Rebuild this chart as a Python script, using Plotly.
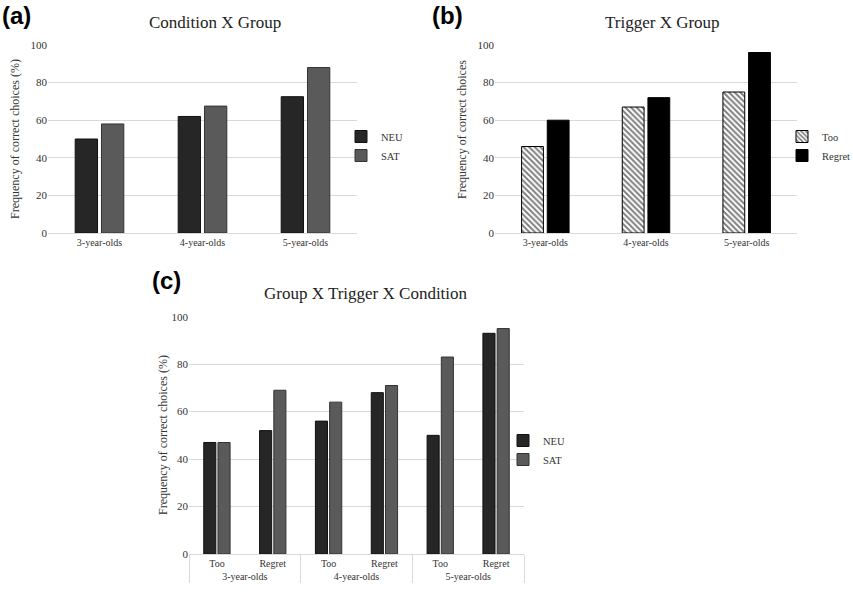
import plotly.graph_objects as go

# ---- data ----
groups = ["3-year-olds", "4-year-olds", "5-year-olds"]

# (a) Condition X Group
a_neu = [50, 62, 72.5]
a_sat = [58, 67.5, 88]

# (b) Trigger X Group
b_too = [46, 67, 75]
b_regret = [60, 72, 96]

# (c) Group X Trigger X Condition
c_groups = ["3-year-olds", "3-year-olds", "4-year-olds", "4-year-olds", "5-year-olds", "5-year-olds"]
c_triggers = ["Too", "Regret", "Too", "Regret", "Too", "Regret"]
c_neu = [47, 52, 56, 68, 50, 93]
c_sat = [47, 69, 64, 71, 83, 95]

NEU_C = "#262626"
SAT_C = "#5a5a5a"
GRID = "#d9d9d9"
SERIF = "Liberation Serif, Times New Roman, serif"
SANS = "Liberation Sans, Arial, sans-serif"
TXT = "#333333"

fig = go.Figure()

# (a)
fig.add_trace(go.Bar(x=groups, y=a_neu, name="NEU", marker=dict(color=NEU_C, line=dict(color="#111", width=1)),
                     xaxis="x", yaxis="y", legend="legend"))
fig.add_trace(go.Bar(x=groups, y=a_sat, name="SAT", marker=dict(color=SAT_C, line=dict(color="#333", width=1)),
                     xaxis="x", yaxis="y", legend="legend"))
# (b)
fig.add_trace(go.Bar(x=groups, y=b_too, name="Too",
                     marker=dict(color="white", line=dict(color="#000", width=1),
                                 pattern=dict(shape="\\", fgcolor="#000", bgcolor="white", size=4, solidity=0.5)),
                     xaxis="x2", yaxis="y2", legend="legend2"))
fig.add_trace(go.Bar(x=groups, y=b_regret, name="Regret", marker=dict(color="#000", line=dict(color="#000", width=1)),
                     xaxis="x2", yaxis="y2", legend="legend2"))
# (c)
fig.add_trace(go.Bar(x=[c_groups, c_triggers], y=c_neu, name="NEU",
                     marker=dict(color=NEU_C, line=dict(color="#111", width=1)),
                     xaxis="x3", yaxis="y3", legend="legend3"))
fig.add_trace(go.Bar(x=[c_groups, c_triggers], y=c_sat, name="SAT",
                     marker=dict(color=SAT_C, line=dict(color="#333", width=1)),
                     xaxis="x3", yaxis="y3", legend="legend3"))

W, H = 853, 594
def px(x): return x / W
def py(y): return 1 - y / H

yax = dict(range=[0, 100], dtick=20, showgrid=True, gridcolor=GRID, gridwidth=1, zeroline=False,
           showline=False, ticks="", tickfont=dict(family=SERIF, size=11, color=TXT), fixedrange=True)
xax = dict(showgrid=False, showline=True, linecolor=GRID, linewidth=1, ticks="",
           tickfont=dict(family=SERIF, size=10, color=TXT), fixedrange=True)

legend_common = dict(font=dict(family=SERIF, size=10.5, color=TXT), bgcolor="rgba(0,0,0,0)",
                     tracegroupgap=0, itemwidth=30, xanchor="left", yanchor="middle")

fig.update_layout(
    width=W, height=H, margin=dict(l=0, r=0, t=0, b=0, autoexpand=False),
    paper_bgcolor="white", plot_bgcolor="white",
    barmode="group", bargap=0.49, bargroupgap=0.15,
    xaxis=dict(domain=[px(48), px(357)], anchor="y", **xax),
    yaxis=dict(domain=[py(233), py(45)], anchor="x", **yax),
    xaxis2=dict(domain=[px(495), px(797)], anchor="y2", **xax),
    yaxis2=dict(domain=[py(233), py(45)], anchor="x2", **yax),
    xaxis3=dict(domain=[px(189), px(524)], anchor="y3", dividercolor=GRID, dividerwidth=1, **xax),
    yaxis3=dict(domain=[py(554), py(316.7)], anchor="x3", **yax),
    legend=dict(x=px(341), y=py(146), **legend_common),
    legend2=dict(x=px(782), y=py(146), **legend_common),
    legend3=dict(x=px(503), y=py(450), **legend_common),
)

ann = [
    dict(text="Condition X Group", x=px(215), y=py(23), font=dict(family=SERIF, size=17, color="#222")),
    dict(text="Trigger X Group", x=px(662), y=py(23), font=dict(family=SERIF, size=17, color="#222")),
    dict(text="Group X Trigger X Condition", x=px(366), y=py(293), font=dict(family=SERIF, size=17, color="#222")),
    dict(text="<b>(a)</b>", x=0, y=py(16), xanchor="left", font=dict(family=SANS, size=24, color="#000")),
    dict(text="<b>(b)</b>", x=px(430), y=py(16), xanchor="left", font=dict(family=SANS, size=24, color="#000")),
    dict(text="<b>(c)</b>", x=px(150), y=py(280), xanchor="left", font=dict(family=SANS, size=24, color="#000")),
    dict(text="Frequency of correct choices (%)", x=px(15), y=py(139), textangle=-90,
         font=dict(family=SERIF, size=12, color=TXT)),
    dict(text="Frequency of correct choices", x=px(462), y=py(130), textangle=-90,
         font=dict(family=SERIF, size=12, color=TXT)),
    dict(text="Frequency of correct choices (%)", x=px(163), y=py(435), textangle=-90,
         font=dict(family=SERIF, size=12, color=TXT)),
]
for a in ann:
    a.setdefault("xanchor", "center")
    a.update(xref="paper", yref="paper", showarrow=False, yanchor="middle")
fig.update_layout(annotations=ann)

fig.write_html("out.html", config={"displayModeBar": False},
               post_script="document.body.style.margin='0px';document.body.style.overflow='hidden';")
